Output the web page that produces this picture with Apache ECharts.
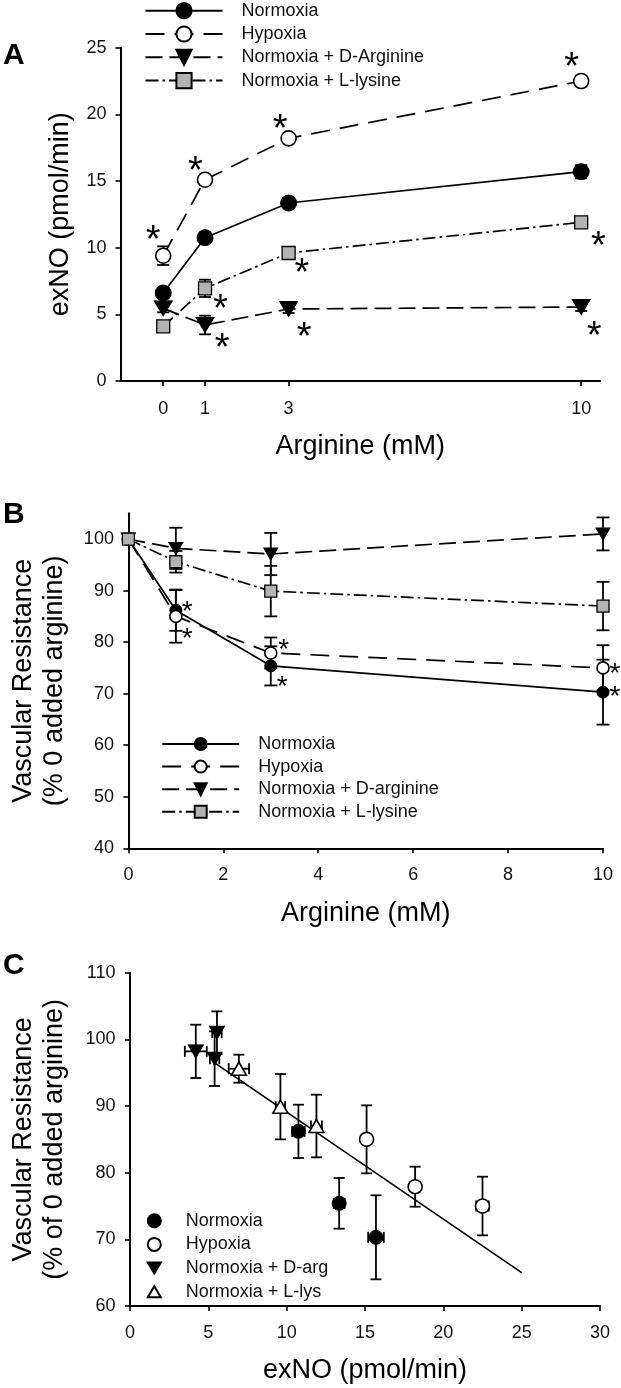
<!DOCTYPE html>
<html><head><meta charset="utf-8">
<script src="https://cdn.jsdelivr.net/npm/echarts@6/dist/echarts.min.js"></script>
<style>html,body{margin:0;padding:0;background:#fff}#c{width:621px;height:1388px}</style>
</head><body><div id="c"></div>
<script>
// ---------------- data ----------------
const arginine = [0, 1, 3, 10];
const tickA = [0, 1, 3, 10];
const tickBy = [40, 50, 60, 70, 80, 90, 100];

// Panel A: exNO (pmol/min)
const exNO_normoxia = [6.6, 10.75, 13.35, 15.7];
const exNO_hypoxia  = [9.4, 15.1, 18.2, 22.5];
const exNO_darg     = [5.45, 4.2, 5.4, 5.55];
const exNO_llys     = [4.1, 6.95, 9.6, 11.9];
const exNOerr_normoxia = [0.4, 0.4, 0.35, 0.5];
const exNOerr_hypoxia  = [0.7, 0.3, 0.3, 0.4];
const exNOerr_darg     = [0.3, 0.7, 0.3, 0.3];
const exNOerr_llys     = [0.3, 0.65, 0.3, 0.35];

// Panel B: vascular resistance (% 0 added arginine)
const vr_normoxia = [100, 86.2, 75.4, 70.3];
const vr_hypoxia  = [100, 85.0, 77.9, 75.0];
const vr_darg     = [100, 98.2, 97.1, 101.0];
const vr_llys     = [100, 95.6, 89.9, 87.0];
const vrerr_normoxia = [0, 4.0, 3.8, 6.3];
const vrerr_hypoxia  = [0, 5.1, 3.0, 4.4];
const vrerr_darg     = [0, 4.0, 4.1, 3.2];
const vrerr_llys     = [0, 2.1, 4.9, 4.7];

// Panel C: regression line end points
const fitX = [5.45, 25];
const fitY = [96.4, 65.0];

// significance asterisks (anchor positions in data units)
const starsA = [[-0.24, 11.1], [0.77, 16.3], [2.8, 19.45], [9.77, 24.1], [10.41, 10.7], [3.32, 8.65], [1.37, 5.95], [1.41, 3.0], [3.37, 3.85], [10.31, 3.9]];
const starsB = [[1.24, 87.0], [1.24, 81.9], [3.27, 79.7], [3.24, 72.6], [10.25, 75.0], [10.25, 70.5]];

// ---------------- helpers ----------------
const FONT = "'Liberation Sans', Arial, sans-serif";
const BLACK = '#000';
const GRAY = '#b3b3b3';
const TRI_DOWN = 'path://M0,0L20,0L10,17Z';
const TRI_UP = 'path://M10,0L20,17L0,17Z';

const pts = (xs, ys) => xs.map((x, i) => [x, ys[i]]);
const errV = (xs, ys, es) => xs.map((x, i) => [x, ys[i], ys[i] - es[i], ys[i] + es[i], x, x]);
const sub = a => a.slice(1);
const errXY = (xs, ys, exs, eys) => xs.map((x, i) => [x, ys[i], ys[i] - eys[i], ys[i] + eys[i], x - exs[i], x + exs[i]]);

function errorBars(cap) {
  return function (params, api) {
    const x = api.value(0), y = api.value(1);
    const ylo = api.value(2), yhi = api.value(3), xlo = api.value(4), xhi = api.value(5);
    const st = { stroke: BLACK, lineWidth: 1.8, fill: null };
    const ch = [];
    if (yhi > ylo) {
      const a = api.coord([x, ylo]), b = api.coord([x, yhi]);
      ch.push({ type: 'line', shape: { x1: a[0], y1: a[1], x2: b[0], y2: b[1] }, style: st });
      ch.push({ type: 'line', shape: { x1: a[0] - cap, y1: a[1], x2: a[0] + cap, y2: a[1] }, style: st });
      ch.push({ type: 'line', shape: { x1: b[0] - cap, y1: b[1], x2: b[0] + cap, y2: b[1] }, style: st });
    }
    if (xhi > xlo) {
      const a = api.coord([xlo, y]), b = api.coord([xhi, y]);
      ch.push({ type: 'line', shape: { x1: a[0], y1: a[1], x2: b[0], y2: b[1] }, style: st });
      ch.push({ type: 'line', shape: { x1: a[0], y1: a[1] - cap, x2: a[0], y2: a[1] + cap }, style: st });
      ch.push({ type: 'line', shape: { x1: b[0], y1: b[1] - cap, x2: b[0], y2: b[1] + cap }, style: st });
    }
    return { type: 'group', children: ch };
  };
}

const axisLine = { show: true, onZero: false, lineStyle: { color: BLACK, width: 2 } };
const axisTick = { show: true, inside: false, length: 5, lineStyle: { color: BLACK, width: 1.6 } };
const lblStyle = { color: '#111', fontSize: 18, fontFamily: FONT, lineHeight: 20 };
const nameStyle = { color: BLACK, fontSize: 27, fontFamily: FONT, lineHeight: 31 };

function lineSeries(name, gi, xs, ys, opts) {
  return Object.assign({
    type: 'line', name: name, xAxisIndex: gi, yAxisIndex: gi, data: pts(xs, ys),
    showSymbol: true, clip: false, silent: true, z: 3
  }, opts);
}
function starSeries(gi, data, fs, dy) {
  return {
    type: 'scatter', xAxisIndex: gi, yAxisIndex: gi, data: data, symbol: 'circle', symbolSize: 1,
    itemStyle: { color: 'rgba(0,0,0,0)', opacity: 1 }, clip: false, silent: true, z: 6,
    label: { show: true, position: 'inside', formatter: '*', fontSize: fs, fontFamily: FONT, color: BLACK, opacity: 1, offset: [0, dy] }
  };
}

const styN = (size) => ({ symbol: 'circle', symbolSize: size, itemStyle: { color: BLACK, borderColor: BLACK, borderWidth: 1 } });
const styH = (size) => ({ symbol: 'circle', symbolSize: size, itemStyle: { color: '#fff', borderColor: BLACK, borderWidth: 1.6 } });
const styD = (w, h) => ({ symbol: TRI_DOWN, symbolSize: [w, h], itemStyle: { color: BLACK, borderColor: BLACK, borderWidth: 1 } });
const styL = (size) => ({ symbol: 'rect', symbolSize: size, itemStyle: { color: GRAY, borderColor: BLACK, borderWidth: 1.3 } });
const lsty = (type) => ({ lineStyle: { color: BLACK, width: 1.7, type: type } });

const DASH_H = [19, 10], DASH_D = [17, 7], DASH_L = [13, 4, 2.5, 4];

const chart = echarts.init(document.getElementById('c'), null, { renderer: 'canvas' });
const fmt = n => n.split('|')[1];

chart.setOption({
  animation: false,
  backgroundColor: '#fff',
  textStyle: { fontFamily: FONT },
  title: [
    { text: 'A', left: 3, top: 41, padding: 0, textStyle: { fontSize: 30, fontWeight: 'bold', color: BLACK, fontFamily: FONT, lineHeight: 30 } },
    { text: 'B', left: 3, top: 500, padding: 0, textStyle: { fontSize: 30, fontWeight: 'bold', color: BLACK, fontFamily: FONT, lineHeight: 30 } },
    { text: 'C', left: 3, top: 951, padding: 0, textStyle: { fontSize: 30, fontWeight: 'bold', color: BLACK, fontFamily: FONT, lineHeight: 30 } }
  ],
  legend: [
    { orient: 'vertical', left: 144.5, top: 0.7, padding: 0, itemWidth: 77, itemHeight: 19, itemGap: 3.3, selectedMode: false,
      data: ['A|Normoxia', 'A|Hypoxia', 'A|Normoxia + D-Arginine', 'A|Normoxia + L-lysine'], formatter: fmt,
      textStyle: { fontSize: 18, fontFamily: FONT, color: '#111', lineHeight: 20, padding: [0, 0, 0, 14] } },
    { orient: 'vertical', left: 161.2, top: 734, padding: 0, itemWidth: 77, itemHeight: 15, itemGap: 2.6, selectedMode: false,
      data: ['B|Normoxia', 'B|Hypoxia', 'B|Normoxia + D-arginine', 'B|Normoxia + L-lysine'], formatter: fmt,
      textStyle: { fontSize: 18, fontFamily: FONT, color: '#111', lineHeight: 20, padding: [0, 0, 0, 14] } },
    { orient: 'vertical', left: 146.8, top: 1210.7, padding: 0, itemWidth: 13, itemHeight: 13, itemGap: 3.7, selectedMode: false,
      data: ['C|Normoxia', 'C|Hypoxia', 'C|Normoxia + D-arg', 'C|Normoxia + L-lys'], formatter: fmt,
      textStyle: { fontSize: 18, fontFamily: FONT, color: '#111', lineHeight: 20, padding: [0, 0, 0, 20] } }
  ],
  grid: [
    { left: 120.6, top: 47.7, width: 479.4, height: 333.3 },
    { left: 121.4, top: 513.3, width: 481.6, height: 335 },
    { left: 122.2, top: 972.7, width: 477.8, height: 333.3 }
  ],
  xAxis: [
    { type: 'value', gridIndex: 0, min: -1.02, max: 10.45, axisLine, splitLine: { show: false },
      axisTick: Object.assign({ customValues: tickA }, axisTick),
      axisLabel: Object.assign({ customValues: tickA, margin: 18 }, lblStyle),
      name: 'Arginine (mM)', nameLocation: 'middle', nameGap: 50.4, nameTextStyle: nameStyle },
    { type: 'value', gridIndex: 1, min: 0, max: 10, interval: 2, axisLine, axisTick, splitLine: { show: false },
      axisLabel: Object.assign({ margin: 17 }, lblStyle),
      name: 'Arginine (mM)', nameLocation: 'middle', nameGap: 49.7, nameTextStyle: nameStyle },
    { type: 'value', gridIndex: 2, min: 0, max: 30, interval: 5, axisLine, axisTick, splitLine: { show: false },
      axisLabel: Object.assign({ margin: 17 }, lblStyle),
      name: 'exNO (pmol/min)', nameLocation: 'middle', nameGap: 49, nameTextStyle: nameStyle }
  ],
  yAxis: [
    { type: 'value', gridIndex: 0, min: 0, max: 25, interval: 5, axisLine, axisTick, splitLine: { show: false },
      axisLabel: Object.assign({ margin: 14 }, lblStyle),
      name: 'exNO (pmol/min)', nameLocation: 'middle', nameGap: 44, nameTextStyle: nameStyle },
    { type: 'value', gridIndex: 1, min: 40, max: 105, interval: 10, axisLine, splitLine: { show: false },
      axisTick: Object.assign({ customValues: tickBy }, axisTick),
      axisLabel: Object.assign({ customValues: tickBy, margin: 14.5 }, lblStyle),
      name: 'Vascular Resistance\n(% 0 added arginine)', nameLocation: 'middle', nameGap: 58.4, nameTextStyle: nameStyle },
    { type: 'value', gridIndex: 2, min: 60, max: 110, interval: 10, axisLine, axisTick, splitLine: { show: false },
      axisLabel: Object.assign({ margin: 14.5 }, lblStyle),
      name: 'Vascular Resistance\n(% of 0 added arginine)', nameLocation: 'middle', nameGap: 60, nameTextStyle: nameStyle }
  ],
  series: [
    // ----- Panel A -----
    { type: 'custom', xAxisIndex: 0, yAxisIndex: 0, renderItem: errorBars(6), clip: false, silent: true, z: 1,
      encode: { x: [0, 4, 5], y: [1, 2, 3] },
      data: [].concat(errV(arginine, exNO_normoxia, exNOerr_normoxia), errV(arginine, exNO_hypoxia, exNOerr_hypoxia),
                      errV(arginine, exNO_darg, exNOerr_darg), errV(arginine, exNO_llys, exNOerr_llys)) },
    lineSeries('A|Normoxia', 0, arginine, exNO_normoxia, Object.assign(styN(16), lsty('solid'))),
    lineSeries('A|Hypoxia', 0, arginine, exNO_hypoxia, Object.assign(styH(15), lsty(DASH_H))),
    lineSeries('A|Normoxia + D-Arginine', 0, arginine, exNO_darg, Object.assign(styD(18, 15), lsty(DASH_D))),
    lineSeries('A|Normoxia + L-lysine', 0, arginine, exNO_llys, Object.assign(styL(13), lsty(DASH_L))),
    starSeries(0, starsA, 38, 9),

    // ----- Panel B -----
    { type: 'custom', xAxisIndex: 1, yAxisIndex: 1, renderItem: errorBars(6.5), clip: false, silent: true, z: 1,
      encode: { x: [0, 4, 5], y: [1, 2, 3] },
      data: [].concat(errV(arginine, vr_normoxia, vrerr_normoxia), errV(arginine, vr_hypoxia, vrerr_hypoxia),
                      errV(arginine, vr_darg, vrerr_darg), errV(arginine, vr_llys, vrerr_llys)) },
    lineSeries('B|Normoxia', 1, arginine, vr_normoxia, Object.assign(styN(12), lsty('solid'))),
    lineSeries('B|Hypoxia', 1, arginine, vr_hypoxia, Object.assign(styH(12), lsty(DASH_H))),
    lineSeries('B|Normoxia + D-arginine', 1, arginine, vr_darg, Object.assign(styD(14, 12), lsty(DASH_D))),
    lineSeries('B|Normoxia + L-lysine', 1, arginine, vr_llys, Object.assign(styL(12), lsty(DASH_L))),
    starSeries(1, starsB, 28, 6.5),

    // ----- Panel C -----
    { type: 'line', xAxisIndex: 2, yAxisIndex: 2, data: pts(fitX, fitY), symbol: 'none', silent: true, z: 1,
      lineStyle: { color: BLACK, width: 1.7 } },
    { type: 'custom', xAxisIndex: 2, yAxisIndex: 2, renderItem: errorBars(5.5), clip: false, silent: true, z: 2,
      encode: { x: [0, 4, 5], y: [1, 2, 3] },
      data: [].concat(
        errXY(sub(exNO_normoxia), sub(vr_normoxia), sub(exNOerr_normoxia), sub(vrerr_normoxia)),
        errXY(sub(exNO_hypoxia), sub(vr_hypoxia), sub(exNOerr_hypoxia), sub(vrerr_hypoxia)),
        errXY(sub(exNO_darg), sub(vr_darg), sub(exNOerr_darg), sub(vrerr_darg)),
        errXY(sub(exNO_llys), sub(vr_llys), sub(exNOerr_llys), sub(vrerr_llys))) },
    { type: 'scatter', name: 'C|Normoxia', xAxisIndex: 2, yAxisIndex: 2, data: pts(sub(exNO_normoxia), sub(vr_normoxia)),
      silent: true, z: 4, symbol: 'circle', symbolSize: 14, itemStyle: { color: BLACK, borderColor: BLACK, borderWidth: 1, opacity: 1 } },
    { type: 'scatter', name: 'C|Hypoxia', xAxisIndex: 2, yAxisIndex: 2, data: pts(sub(exNO_hypoxia), sub(vr_hypoxia)),
      silent: true, z: 4, symbol: 'circle', symbolSize: 14, itemStyle: { color: '#fff', borderColor: BLACK, borderWidth: 1.6, opacity: 1 } },
    { type: 'scatter', name: 'C|Normoxia + D-arg', xAxisIndex: 2, yAxisIndex: 2, data: pts(sub(exNO_darg), sub(vr_darg)),
      silent: true, z: 4, symbol: TRI_DOWN, symbolSize: [15, 13], itemStyle: { color: BLACK, borderColor: BLACK, borderWidth: 1, opacity: 1 } },
    { type: 'scatter', name: 'C|Normoxia + L-lys', xAxisIndex: 2, yAxisIndex: 2, data: pts(sub(exNO_llys), sub(vr_llys)),
      silent: true, z: 4, symbol: TRI_UP, symbolSize: [15, 13], itemStyle: { color: '#fff', borderColor: BLACK, borderWidth: 1.6, opacity: 1 } }
  ]
});
</script>
</body></html>
